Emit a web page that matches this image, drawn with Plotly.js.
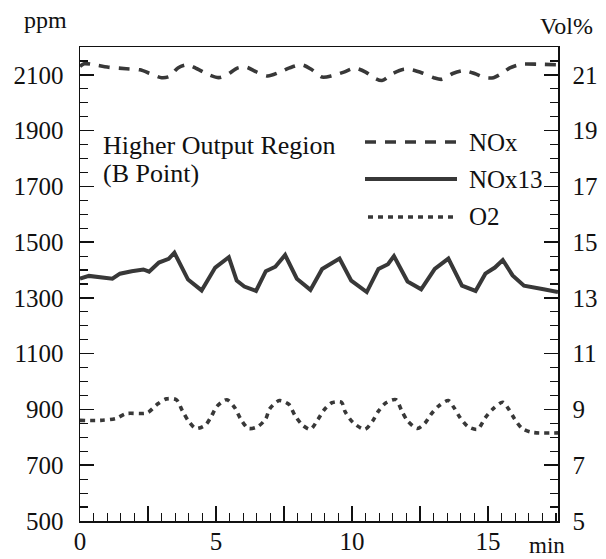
<!DOCTYPE html>
<html>
<head>
<meta charset="utf-8">
<script src="https://cdn.plot.ly/plotly-3.0.1.min.js"></script>
<style>html,body{margin:0;padding:0;background:#fff;}#chart{width:606px;height:559px;}</style>
</head>
<body>
<div id="chart"></div>
<script>
// time (min) and values
const noxTime = [0, 0.15, 0.6, 1.0, 1.7, 2.2, 2.6, 3.0, 3.3, 3.6, 3.95, 4.3, 4.7, 5.1, 5.4, 5.8, 6.1, 6.5, 6.9, 7.3, 7.7, 8.15, 8.5, 8.9, 9.3, 9.7, 10.1, 10.5, 10.8, 11.1, 11.5, 11.9, 12.2, 12.6, 13.0, 13.3, 13.7, 14.1, 14.5, 14.9, 15.2, 15.5, 15.8, 16.2, 16.9, 17.57];
const noxPpm  = [2130, 2140, 2135, 2128, 2122, 2118, 2104, 2090, 2095, 2125, 2136, 2122, 2102, 2090, 2100, 2125, 2128, 2110, 2096, 2108, 2125, 2136, 2120, 2092, 2098, 2110, 2124, 2110, 2090, 2080, 2105, 2120, 2118, 2106, 2090, 2084, 2105, 2115, 2105, 2090, 2090, 2105, 2125, 2138, 2138, 2136];

const nox13Time = [0, 0.33, 1.19, 1.47, 1.9, 2.33, 2.54, 2.9, 3.26, 3.47, 3.97, 4.47, 4.97, 5.47, 5.76, 6.04, 6.47, 6.83, 7.18, 7.54, 7.97, 8.47, 8.9, 9.54, 9.97, 10.54, 10.97, 11.32, 11.54, 12.04, 12.54, 13.04, 13.54, 14.04, 14.54, 14.9, 15.25, 15.54, 15.9, 16.32, 17.04, 17.57];
const nox13Ppm  = [1369, 1379, 1369, 1387, 1396, 1402, 1394, 1427, 1440, 1462, 1366, 1327, 1409, 1446, 1362, 1341, 1325, 1396, 1412, 1454, 1369, 1329, 1404, 1441, 1362, 1321, 1404, 1421, 1450, 1359, 1331, 1404, 1441, 1344, 1325, 1387, 1409, 1436, 1381, 1344, 1331, 1321];

const o2Time = [0, 0.76, 1.33, 1.69, 2.47, 2.83, 3.18, 3.54, 3.76, 3.97, 4.26, 4.61, 4.83, 5.04, 5.4, 5.69, 5.9, 6.19, 6.54, 6.83, 6.97, 7.33, 7.68, 7.9, 8.18, 8.47, 8.75, 8.97, 9.26, 9.61, 9.75, 10.04, 10.47, 10.76, 10.97, 11.25, 11.61, 11.83, 12.04, 12.4, 12.68, 12.9, 13.18, 13.54, 13.75, 13.97, 14.26, 14.61, 14.9, 15.18, 15.54, 15.75, 15.97, 16.25, 16.61, 17.57];
const o2Vol  = [8.61, 8.61, 8.68, 8.85, 8.88, 9.18, 9.38, 9.35, 8.96, 8.61, 8.32, 8.44, 8.76, 9.12, 9.35, 9.06, 8.67, 8.32, 8.39, 8.67, 9.02, 9.32, 9.18, 8.79, 8.44, 8.29, 8.65, 8.98, 9.24, 9.26, 8.91, 8.53, 8.29, 8.59, 8.94, 9.24, 9.35, 8.94, 8.59, 8.32, 8.51, 8.82, 9.12, 9.32, 9.06, 8.71, 8.39, 8.29, 8.71, 9.02, 9.26, 9.02, 8.67, 8.32, 8.18, 8.16];

const legendNames = ["NOx", "NOx13", "O2"];
const ppmTicks = [500, 700, 900, 1100, 1300, 1500, 1700, 1900, 2100];
const volTicks = [5, 7, 9, 11, 13, 15, 17, 19, 21];
const xTickVals = [0, 2.5, 5, 7.5, 10, 12.5, 15];
const xTickText = ["0", "", "5", "", "10", "", "15"];

const FONT = "'Liberation Serif', 'Times New Roman', Times, serif";
const LINE = "#383838";

const traces = [
  {x: noxTime, y: noxPpm, type: "scatter", mode: "lines", name: legendNames[0],
   line: {color: LINE, width: 3.6, dash: "11px,9px", shape: "spline", smoothing: 0.8}, yaxis: "y"},
  {x: nox13Time, y: nox13Ppm, type: "scatter", mode: "lines", name: legendNames[1],
   line: {color: LINE, width: 4}, yaxis: "y"},
  {x: o2Time, y: o2Vol, type: "scatter", mode: "lines", name: legendNames[2],
   line: {color: LINE, width: 3.6, dash: "5px,5px", shape: "spline", smoothing: 0.8}, yaxis: "y2"}
];

const tickFont = {family: FONT, size: 25, color: "#111"};

const layout = {
  width: 606, height: 559,
  margin: {l: 80, r: 48, t: 47, b: 38, pad: 0},
  paper_bgcolor: "#fff", plot_bgcolor: "#fff",
  showlegend: false,
  font: {family: FONT, color: "#111"},
  xaxis: {
    range: [0, 17.57], showgrid: false, zeroline: false,
    showline: true, linecolor: "#111", linewidth: 1.5, mirror: true,
    tickmode: "array", tickvals: xTickVals, ticktext: xTickText,
    ticks: "inside", ticklen: 15, tickwidth: 1.5, tickcolor: "#111",
    minor: {dtick: 0.5, tick0: 0, ticks: "inside", ticklen: 8, tickwidth: 1.2, tickcolor: "#111", showgrid: false},
    tickfont: tickFont, ticklabelstandoff: -3
  },
  yaxis: {
    range: [500, 2200], showgrid: false, zeroline: false,
    showline: true, linecolor: "#111", linewidth: 1.5,
    tickmode: "array", tickvals: ppmTicks,
    ticks: "inside", ticklen: 14, tickwidth: 1.5, tickcolor: "#111",
    minor: {dtick: 50, tick0: 500, ticks: "inside", ticklen: 8, tickwidth: 1.2, tickcolor: "#111", showgrid: false},
    tickfont: tickFont, ticklabelstandoff: 10
  },
  yaxis2: {
    range: [5, 22], overlaying: "y", side: "right", showgrid: false, zeroline: false,
    showline: true, linecolor: "#111", linewidth: 1.5,
    tickmode: "array", tickvals: volTicks,
    ticks: "inside", ticklen: 14, tickwidth: 1.5, tickcolor: "#111",
    minor: {dtick: 0.5, tick0: 5, ticks: "inside", ticklen: 8, tickwidth: 1.2, tickcolor: "#111", showgrid: false},
    tickfont: tickFont, ticklabelstandoff: 8
  },
  shapes: [
    {type: "line", xref: "paper", yref: "paper", x0: (365-80)/478, x1: (457-80)/478, y0: (521-142)/474, y1: (521-142)/474,
     line: {color: LINE, width: 3.6, dash: "11px,9px"}},
    {type: "line", xref: "paper", yref: "paper", x0: (365-80)/478, x1: (457-80)/478, y0: (521-179)/474, y1: (521-179)/474,
     line: {color: LINE, width: 4}},
    {type: "line", xref: "paper", yref: "paper", x0: (368-80)/478, x1: (457-80)/478, y0: (521-217)/474, y1: (521-217)/474,
     line: {color: LINE, width: 3.6, dash: "5px,5px"}}
  ],
  annotations: [
    {xref: "paper", yref: "paper", x: (467-80)/478, y: (521-142)/474, xanchor: "left", yanchor: "middle", showarrow: false,
     text: legendNames[0], font: {family: FONT, size: 25, color: "#111"}},
    {xref: "paper", yref: "paper", x: (467-80)/478, y: (521-179)/474, xanchor: "left", yanchor: "middle", showarrow: false,
     text: legendNames[1], font: {family: FONT, size: 25, color: "#111"}},
    {xref: "paper", yref: "paper", x: (467-80)/478, y: (521-217)/474, xanchor: "left", yanchor: "middle", showarrow: false,
     text: legendNames[2], font: {family: FONT, size: 25, color: "#111"}},
    {xref: "paper", yref: "paper", x: (101-80)/478, y: (521-145)/474, xanchor: "left", yanchor: "middle", showarrow: false,
     text: "Higher Output Region", font: {family: FONT, size: 26, color: "#111"}},
    {xref: "paper", yref: "paper", x: (101-80)/478, y: (521-174)/474, xanchor: "left", yanchor: "middle", showarrow: false,
     text: "(B Point)", font: {family: FONT, size: 26, color: "#111"}},
    {xref: "paper", yref: "paper", x: (45-80)/478, y: (521-20)/474, xanchor: "center", yanchor: "middle", showarrow: false,
     text: "ppm", font: {family: FONT, size: 24, color: "#111"}},
    {xref: "paper", yref: "paper", x: (566-80)/478, y: (521-26)/474, xanchor: "center", yanchor: "middle", showarrow: false,
     text: "Vol%", font: {family: FONT, size: 24, color: "#111"}},
    {xref: "paper", yref: "paper", x: (547-80)/478, y: (521-545)/474, xanchor: "center", yanchor: "middle", showarrow: false,
     text: "min", font: {family: FONT, size: 23, color: "#111"}}
  ]
};

Plotly.newPlot("chart", traces, layout, {staticPlot: true, displayModeBar: false});
</script>
</body>
</html>
